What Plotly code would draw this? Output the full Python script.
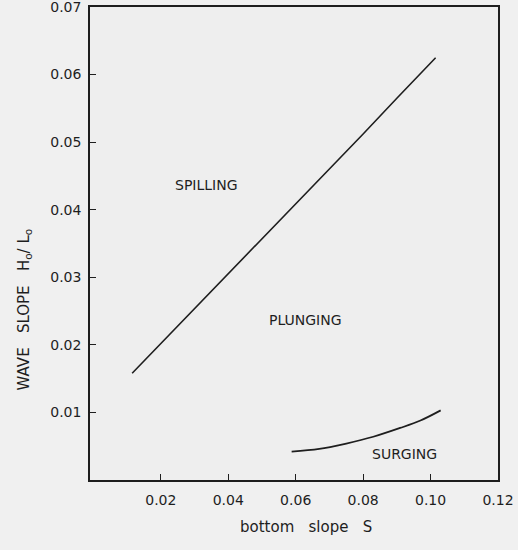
import plotly.graph_objects as go

# Breaker-type boundaries: wave steepness H0/L0 against bottom slope S
spill_plunge_s = [0.0115, 0.02, 0.03, 0.04, 0.05, 0.06, 0.07, 0.08, 0.09, 0.1015]
spill_plunge_h = [0.0158, 0.0202, 0.0253, 0.0304, 0.0356, 0.0408, 0.0460, 0.0512, 0.0565, 0.0625]

plunge_surge_s = [0.0588, 0.067, 0.075, 0.083, 0.091, 0.097, 0.103]
plunge_surge_h = [0.0042, 0.0046, 0.0054, 0.0064, 0.0077, 0.0088, 0.0103]

x_tick_vals = [0.02, 0.04, 0.06, 0.08, 0.10, 0.12]
x_tick_text = ["0.02", "0.04", "0.06", "0.08", "0.10", "0.12"]
y_tick_vals = [0.01, 0.02, 0.03, 0.04, 0.05, 0.06, 0.07]
y_tick_text = ["0.01", "0.02", "0.03", "0.04", "0.05", "0.06", "0.07"]

region_names = ["SPILLING", "PLUNGING", "SURGING"]
region_s = [0.0335, 0.063, 0.0924]
region_h = [0.0437, 0.0237, 0.0039]

ink = "#1e1e1e"
font_family = "DejaVu Sans"

fig = go.Figure()
fig.add_trace(go.Scatter(x=spill_plunge_s, y=spill_plunge_h, mode="lines",
                         line=dict(color=ink, width=1.6), showlegend=False))
fig.add_trace(go.Scatter(x=plunge_surge_s, y=plunge_surge_h, mode="lines",
                         line=dict(color=ink, width=1.8, shape="spline"), showlegend=False))

for name, sx, hy in zip(region_names, region_s, region_h):
    fig.add_annotation(x=sx, y=hy, text=name, showarrow=False,
                       font=dict(family=font_family, size=14, color=ink))

# axis titles placed as free text
fig.add_annotation(xref="paper", yref="paper", x=0.53, y=-0.1, yanchor="middle",
                   text="bottom   slope   S",
                   showarrow=False, font=dict(family=font_family, size=15, color=ink))
fig.add_annotation(xref="paper", yref="paper", x=-0.16, xanchor="center", y=0.36,
                   text="WAVE   SLOPE   H<sub>o</sub>/ L<sub>o</sub>", textangle=-90,
                   showarrow=False, font=dict(family=font_family, size=15, color=ink))

fig.update_xaxes(range=[-0.001, 0.12], tickvals=x_tick_vals, ticktext=x_tick_text,
                 ticks="inside", ticklen=6, tickwidth=1.2, tickcolor=ink,
                 showline=True, linecolor=ink, linewidth=1.5, mirror=True,
                 showgrid=False, zeroline=False, ticklabelstandoff=6, automargin=False,
                 ticklabeloverflow="allow",
                 tickfont=dict(family=font_family, size=14, color=ink))
fig.update_yaxes(range=[0, 0.07], tickvals=y_tick_vals, ticktext=y_tick_text,
                 ticks="inside", ticklen=6, tickwidth=1.2, tickcolor=ink,
                 showline=True, linecolor=ink, linewidth=1.5, mirror=True,
                 showgrid=False, zeroline=False, ticklabelstandoff=4, automargin=False,
                 ticklabeloverflow="allow",
                 tickfont=dict(family=font_family, size=14, color=ink))

fig.update_layout(width=518, height=550,
                  margin=dict(l=90, r=20, t=7, b=70),
                  paper_bgcolor="#f0f0f0", plot_bgcolor="#eeeeee")

fig.write_html("out.html")
